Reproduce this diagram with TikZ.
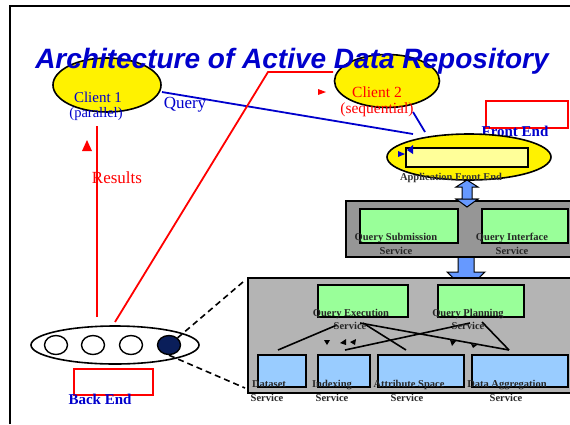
\documentclass[tikz,border=0pt]{standalone}
\usepackage{fontspec}
\setmainfont{Liberation Serif}
\newfontfamily\titlefont{Liberation Sans}
\usetikzlibrary{shapes.geometric}
\definecolor{tblue}{RGB}{0,0,204}
\definecolor{qgreen}{RGB}{153,255,153}
\definecolor{sblue}{RGB}{153,204,255}
\definecolor{gdark}{RGB}{150,150,150}
\definecolor{glight}{RGB}{180,180,180}
\definecolor{ablue}{RGB}{102,153,255}
\definecolor{navy}{RGB}{10,30,90}
\definecolor{lyellow}{RGB}{255,255,153}
\begin{document}
\begin{tikzpicture}[x=1pt,y=-1pt,
  oval/.style={ellipse,draw=black,line width=1.6pt,inner sep=0pt},
  box/.style={draw=black,line width=1.5pt,inner sep=0pt,anchor=north west},
  lbl/.style={font=\fontsize{10.5}{10.5}\selectfont\bfseries,text=black!85,inner sep=0pt,anchor=base},
  txt/.style={inner sep=0pt,anchor=base},
  link/.style={line width=1.6pt,black},
  bigarrow/.style={fill=ablue,draw=black,line width=1pt}]
\useasboundingbox (0,0) rectangle (570,424);
% frame
\draw[line width=2.2pt] (10,424) -- (10,6) -- (570,6);
% coordinates
\coordinate (qs) at (162,92);
\coordinate (qe) at (413,134);
\coordinate (c2s) at (413,112);
\coordinate (c2e) at (425,132);
\coordinate (rv1) at (97,317);
\coordinate (rv2) at (97,126);
\coordinate (rb) at (115,322);
\coordinate (rk) at (268,72);
\coordinate (rc) at (333,72);
% blue query lines
\draw[tblue,line width=1.8pt] (qs) -- (qe);
\draw[tblue,line width=1.8pt] (c2s) -- (c2e);
% red lines
\draw[red,line width=1.8pt] (rv1) -- (rv2);
\draw[red,line width=1.8pt] (rb) -- (rk) -- (rc);
% clients
\node[oval,fill=yellow,minimum width=108pt,minimum height=54pt] (c1) at (107,85) {};
\node[oval,fill=yellow,minimum width=105pt,minimum height=53pt] (c2) at (387,81) {};
% title
\node[txt,text=tblue,font=\titlefont\fontsize{28}{28}\selectfont\bfseries\itshape] (title) at (292,68) {Architecture of Active Data Repository};
% client texts
\node[txt,text=tblue,font=\fontsize{15}{15}\selectfont] (c1a) at (98,102) {Client 1};
\node[txt,text=tblue,font=\fontsize{14.5}{14.5}\selectfont] (c1b) at (96,117) {(parallel)};
\node[txt,text=red,font=\fontsize{15.5}{15.5}\selectfont] (c2a) at (377,97) {Client 2};
\node[txt,text=red,font=\fontsize{15.5}{15.5}\selectfont] (c2b) at (377,113) {(sequential)};
\node[txt,text=tblue,font=\fontsize{17}{17}\selectfont] (qlbl) at (185,108) {Query};
\node[txt,text=red,font=\fontsize{17}{17}\selectfont] (rlbl) at (117,183) {Results};
% small red triangles
\fill[red] (82,151) -- (92,151) -- (87,140) -- cycle;
\fill[red] (318,89) -- (318,95) -- (326,92) -- cycle;
% front end
\node[box,draw=red,line width=1.8pt,minimum width=82pt,minimum height=27pt] (ferect) at (485,100) {};
\node[txt,text=tblue,font=\fontsize{15}{15}\selectfont\bfseries] (felbl) at (515,136) {Front End};
% double arrow top
\draw[bigarrow] (467,180) -- (478,187) -- (472,187) -- (472,199) -- (478,199) -- (467,207) -- (456,199) -- (462,199) -- (462,187) -- (456,187) -- cycle;
\node[oval,fill=yellow,minimum width=164pt,minimum height=46pt] (afe) at (469,157) {};
\node[box,fill=lyellow,minimum width=122pt,minimum height=19pt] (afein) at (405,147) {};
\node[lbl,text=black!80] (afelbl) at (451,180) {Application Front End};
% blue small triangles
\fill[tblue] (398,151) -- (398,157) -- (405,154) -- cycle;
\fill[tblue] (413,145) -- (413,154) -- (407,150) -- cycle;
% arrow between boxes
\draw[bigarrow] (458,250) -- (474,250) -- (474,272) -- (485,272) -- (466,290) -- (447,272) -- (458,272) -- cycle;
% top gray box
\node[box,fill=gdark,minimum width=225pt,minimum height=56pt] (topbox) at (345,200) {};
\draw[bigarrow] (462,199) -- (472,199) -- (478,199) -- (467,207) -- (456,199) -- cycle;
\node[box,fill=qgreen,minimum width=98pt,minimum height=34pt] (qsub) at (359,208) {};
\node[box,fill=qgreen,minimum width=86pt,minimum height=34pt] (qint) at (481,208) {};
\node[lbl] (qsubl1) at (396,240) {Query Submission};
\node[lbl] (qsubl2) at (396,254) {Service};
\node[lbl] (qintl1) at (512,240) {Query Interface};
\node[lbl] (qintl2) at (512,254) {Service};
% bottom gray box
\node[box,fill=glight,minimum width=323pt,minimum height=115pt] (botbox) at (247,277) {};
\node[box,fill=qgreen,minimum width=90pt,minimum height=32pt] (qex) at (317,284) {};
\node[box,fill=qgreen,minimum width=86pt,minimum height=32pt] (qpl) at (437,284) {};
\node[box,fill=sblue,minimum width=48pt,minimum height=32pt] (ds) at (257,354) {};
\node[box,fill=sblue,minimum width=52pt,minimum height=32pt] (ix) at (317,354) {};
\node[box,fill=sblue,minimum width=86pt,minimum height=32pt] (as) at (377,354) {};
\node[box,fill=sblue,minimum width=96pt,minimum height=32pt] (da) at (471,354) {};
% internal links
\coordinate (l1a) at (278,350); \coordinate (l1b) at (337,325);
\coordinate (l2a) at (363,323); \coordinate (l2b) at (406,350);
\coordinate (l3a) at (360,323); \coordinate (l3b) at (509,350);
\coordinate (l4a) at (345,350); \coordinate (l4b) at (470,323);
\coordinate (l5a) at (482,322); \coordinate (l5b) at (509,350);
\draw[link] (l1a) -- (l1b);
\draw[link] (l2a) -- (l2b);
\draw[link] (l3a) -- (l3b);
\draw[link] (l4a) -- (l4b);
\draw[link] (l5a) -- (l5b);
% small black arrowheads
\fill (324,340) -- (330,340) -- (327,345) -- cycle;
\fill (340,343) -- (346,339) -- (346,345) -- cycle;
\fill (350,342) -- (356,339) -- (355,345) -- cycle;
\fill (450,340) -- (456,341) -- (452,346) -- cycle;
\fill (471,344) -- (477,345) -- (473,348) -- cycle;
% labels bottom
\node[lbl] (qexl1) at (351,316) {Query Execution};
\node[lbl] (qexl2) at (350,329) {Service};
\node[lbl] (qpll1) at (468,316) {Query Planning};
\node[lbl] (qpll2) at (468,329) {Service};
\node[lbl] (dsl1) at (269,387) {Dataset};
\node[lbl] (dsl2) at (267,401) {Service};
\node[lbl] (ixl1) at (332,387) {Indexing};
\node[lbl] (ixl2) at (332,401) {Service};
\node[lbl] (asl1) at (409,387) {Attribute Space};
\node[lbl] (asl2) at (407,401) {Service};
\node[lbl] (dal1) at (507,387) {Data Aggregation};
\node[lbl] (dal2) at (506,401) {Service};
% back end
\node[oval,fill=white,minimum width=168pt,minimum height=38pt] (be) at (115,345) {};
\node[oval,line width=1.4pt,minimum width=23pt,minimum height=19pt] (n1) at (56,345) {};
\node[oval,line width=1.4pt,minimum width=23pt,minimum height=19pt] (n2) at (93,345) {};
\node[oval,line width=1.4pt,minimum width=23pt,minimum height=19pt] (n3) at (131,345) {};
\node[oval,line width=1.4pt,fill=navy,minimum width=23pt,minimum height=19pt] (n4) at (169,345) {};
\coordinate (d1) at (243,282);
\coordinate (d2) at (245,388);
\draw[line width=1.6pt,dash pattern=on 6pt off 4pt] (n4.north east) -- (d1);
\draw[line width=1.6pt,dash pattern=on 6pt off 4pt] (n4.south) -- (d2);
\node[box,draw=red,line width=1.8pt,minimum width=79pt,minimum height=26pt] (berect) at (73,368) {};
\node[txt,text=tblue,font=\fontsize{15}{15}\selectfont\bfseries] (belbl) at (100,404) {Back End};
\end{tikzpicture}
\end{document}
